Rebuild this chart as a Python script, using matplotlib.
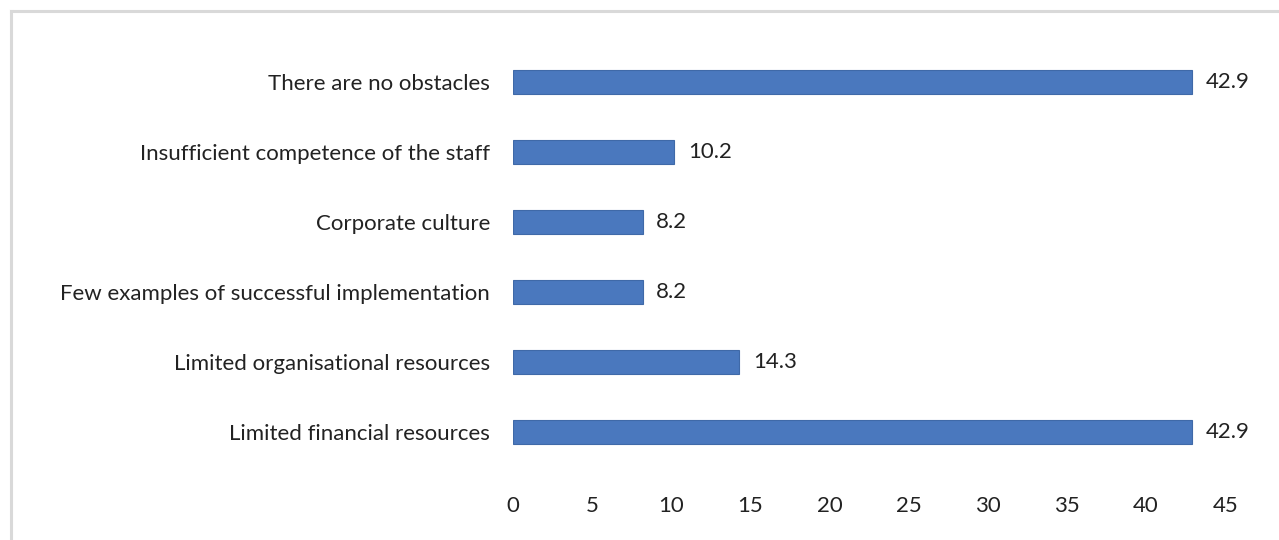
import matplotlib.pyplot as plt
from matplotlib.lines import Line2D

# categories bottom-to-top as drawn by barh
categories = [
    "Limited financial resources",
    "Limited organisational resources",
    "Few examples of successful implementation",
    "Corporate culture",
    "Insufficient competence of the staff",
    "There are no obstacles",
]
values = [42.9, 14.3, 8.2, 8.2, 10.2, 42.9]
x_ticks = [0, 5, 10, 15, 20, 25, 30, 35, 40, 45]

plt.rcParams['font.family'] = ['Lato', 'DejaVu Sans']
FS = 16

fig = plt.figure(figsize=(12.79, 5.4), dpi=100)
ax = fig.add_axes([0.401, 0.135, 0.557, 0.778])

ypos = range(len(categories))
ax.barh(ypos, values, height=0.34, color="#4a78be", edgecolor="#3f69a8", linewidth=0.8)

for y, v in zip(ypos, values):
    ax.text(v + 0.85, y, f"{v:.1f}", va="center", ha="left", fontsize=FS, color="#222222")

ax.set_yticks(list(ypos))
ax.set_yticklabels(categories, fontsize=FS, color="#222222")
ax.set_xticks(x_ticks)
ax.set_xticklabels([str(t) for t in x_ticks], fontsize=FS, color="#222222")
ax.set_xlim(0, 45)
ax.set_ylim(-0.5, len(categories) - 0.5)

ax.tick_params(axis="y", length=0, pad=16.5)
ax.tick_params(axis="x", length=0, pad=21)
for s in ax.spines.values():
    s.set_visible(False)

# light gray frame lines (top and left)
fig.add_artist(Line2D([11 / 1279, 1], [1 - 11 / 540, 1 - 11 / 540], color="#d9d9d9", lw=2.2))
fig.add_artist(Line2D([11 / 1279, 11 / 1279], [0, 1 - 11 / 540], color="#d9d9d9", lw=2.2))

fig.savefig("out.png", dpi=100)
